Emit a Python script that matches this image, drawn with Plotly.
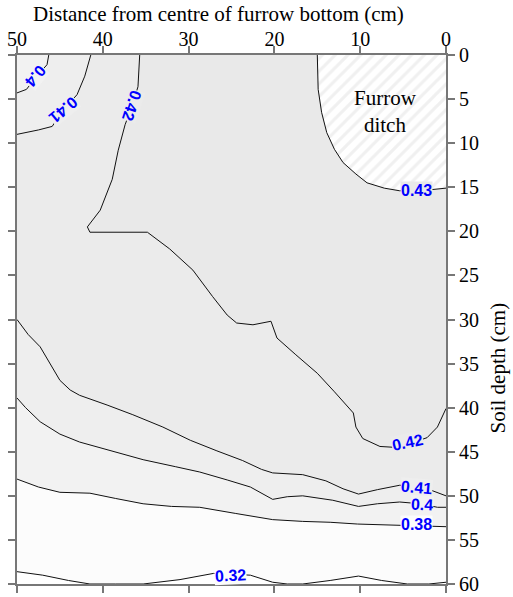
import plotly.graph_objects as go

# Plot extent (cm)
X_MAX = 50   # distance from centre of furrow bottom
Y_MAX = 60   # soil depth

# Soil-moisture isolines: distance (cm) and depth (cm) along each level
iso_043_x = [15.0, 14.9, 14.5, 13.9, 13.0, 12.0, 10.5, 9.2, 7.2, 5.4, 3.0, 0.0]
iso_043_y = [0.0, 3.9, 6.5, 8.8, 10.7, 12.2, 13.5, 14.5, 15.1, 15.4, 15.4, 15.1]

iso_042_x = [35.7, 35.9, 36.6, 37.4, 38.2, 38.9, 40.3, 41.8, 41.5, 38.0, 34.8, 32.2,
             29.5, 27.2, 25.5, 24.4, 22.5, 20.4, 19.7, 17.5, 15.0, 13.0, 11.5, 10.8,
             10.5, 9.7, 7.7, 6.0, 4.5, 2.2, 1.0, 0.0]
iso_042_y = [0.0, 3.6, 5.8, 7.9, 10.8, 14.1, 17.6, 19.5, 20.1, 20.1, 20.1, 22.0,
             24.4, 27.4, 29.5, 30.4, 30.6, 30.2, 32.1, 34.0, 36.1, 38.2, 39.9, 40.6,
             42.2, 43.5, 44.4, 44.5, 44.2, 43.4, 42.2, 40.1]

iso_041_top_x = [41.4, 42.1, 43.0, 44.6, 45.9, 47.5, 50.0]
iso_041_top_y = [0.0, 2.4, 4.5, 6.2, 8.1, 8.5, 9.0]

iso_040_top_x = [46.3, 46.5, 47.7, 48.9, 50.0]
iso_040_top_y = [0.0, 1.1, 2.4, 3.9, 4.3]

iso_041_x = [50.0, 49.7, 48.7, 47.3, 45.0, 43.8, 42.7, 39.5, 36.5, 33.0, 29.8, 26.7,
             23.7, 21.5, 20.2, 16.7, 14.0, 12.0, 10.2, 8.0, 5.4, 3.0, 1.0, 0.0]
iso_041_y = [30.0, 30.4, 31.7, 33.1, 36.9, 38.0, 38.6, 39.7, 40.8, 42.2, 43.7, 44.9,
             46.0, 47.0, 47.4, 47.6, 48.3, 49.2, 49.8, 49.3, 48.8, 48.9, 49.6, 50.0]

iso_040_x = [50.0, 49.0, 47.3, 45.0, 42.7, 39.0, 35.3, 31.5, 28.7, 25.5, 22.8, 20.2,
             18.5, 16.7, 13.2, 10.2, 8.0, 5.4, 3.0, 1.0, 0.0]
iso_040_y = [38.9, 40.0, 41.6, 43.0, 43.9, 44.9, 45.9, 46.7, 47.3, 48.2, 49.0, 50.4,
             50.1, 50.0, 50.5, 51.2, 50.9, 50.7, 50.9, 51.3, 51.3]

iso_038_x = [50.0, 47.5, 45.0, 41.5, 38.5, 35.3, 32.0, 28.7, 24.5, 20.2, 16.7, 13.5,
             10.3, 6.0, 3.0, 0.0]
iso_038_y = [48.1, 49.0, 49.6, 49.7, 50.3, 50.9, 51.2, 51.3, 52.0, 52.7, 52.9, 53.0,
             53.2, 53.3, 53.4, 53.5]

iso_032_x = [50.0, 47.0, 44.0, 41.5, 38.5, 35.3, 31.0, 27.1, 22.8, 20.2, 18.5, 16.7,
             13.5, 10.2, 7.5, 4.5, 2.0, 0.0]
iso_032_y = [58.6, 59.0, 59.6, 60.0, 60.0, 60.0, 59.5, 58.8, 59.0, 59.8, 60.0, 60.0,
             59.6, 59.1, 59.6, 60.0, 60.0, 59.8]

# Contour labels: text, distance, depth, angle
label_text = ["0.4", "0.41", "0.42", "0.43", "0.42", "0.41", "0.4", "0.38", "0.32"]
label_x = [47.8, 44.6, 36.6, 3.4, 4.5, 3.4, 2.8, 3.4, 25.1]
label_y = [2.4, 6.2, 5.8, 15.4, 44.0, 49.1, 51.0, 53.3, 59.0]
label_angle = [130, 140, 108, 0, -12, 5, 3, 0, -3]

# Fill shades for each moisture band
C_GT043 = "#ffffff"
C_042_043 = "#e9e9e9"
C_041_042 = "#ebebeb"
C_040_041 = "#eeeeee"
C_038_040 = "#f2f2f2"
C_032_038 = "#fcfcfc"
C_LT032 = "#ffffff"
label_bg = [C_038_040, C_040_041, C_041_042, C_042_043, C_041_042,
            C_040_041, C_038_040, C_032_038, C_032_038]

fig = go.Figure()


def band(xs, ys, color, pattern=None):
    fig.add_trace(go.Scatter(
        x=xs, y=ys, mode="lines", fill="toself", fillcolor=color,
        fillpattern=pattern, line=dict(width=0), hoverinfo="skip",
        showlegend=False))


# > 0.38
band(iso_038_x + [0, X_MAX], iso_038_y + [0, 0], C_038_040)
# > 0.40
band(iso_040_top_x + iso_040_x + [0],
     iso_040_top_y + iso_040_y + [0], C_040_041)
# > 0.41
band(iso_041_top_x + iso_041_x + [0],
     iso_041_top_y + iso_041_y + [0], C_041_042)
# > 0.42
band(iso_042_x + [0], iso_042_y + [0], C_042_043)
# < 0.32
band(iso_032_x + [0, X_MAX], iso_032_y + [Y_MAX, Y_MAX], C_LT032)
# furrow ditch (> 0.43), hatched
band(iso_043_x + [0], iso_043_y + [0], C_GT043,
     pattern=dict(shape="/", fgcolor="#e2e2e2", bgcolor="#ffffff",
                  size=9, solidity=0.35))

# isolines
for xs, ys in [(iso_043_x, iso_043_y), (iso_042_x, iso_042_y),
               (iso_041_top_x, iso_041_top_y), (iso_040_top_x, iso_040_top_y),
               (iso_041_x, iso_041_y), (iso_040_x, iso_040_y),
               (iso_038_x, iso_038_y), (iso_032_x, iso_032_y)]:
    fig.add_trace(go.Scatter(x=xs, y=ys, mode="lines",
                             line=dict(color="#111111", width=1),
                             hoverinfo="skip", showlegend=False))

for t, x, y, a, bg in zip(label_text, label_x, label_y, label_angle, label_bg):
    fig.add_annotation(x=x, y=y, text=t, showarrow=False, textangle=a,
                       bgcolor=bg, borderpad=0,
                       font=dict(family="Liberation Sans", size=16,
                                 color="#0000ff", weight="bold"))

fig.add_annotation(x=7.0, y=6.4, text="Furrow<br>ditch", showarrow=False,
                   font=dict(family="Liberation Serif", size=21, color="#000000"))

serif = dict(family="Liberation Serif", size=20, color="#000000")
axis_style = dict(showline=True, linecolor="#777777", linewidth=2,
                  ticks="outside", ticklen=7, tickwidth=1.5, tickcolor="#777777",
                  mirror="ticks", showgrid=False, zeroline=False, tickfont=serif,
                  automargin=False)

fig.update_xaxes(range=[X_MAX, 0], side="top", tickvals=list(range(0, 51, 10)),
                 ticklabelstandoff=-8, **axis_style)
fig.update_yaxes(range=[Y_MAX, 0], side="right", tickvals=list(range(0, 61, 5)),
                 **axis_style)

fig.add_annotation(xref="paper", yref="paper", x=0.47, y=1.078,
                   xanchor="center", yanchor="middle",
                   text="Distance from centre of furrow bottom (cm)",
                   showarrow=False, font=dict(family="Liberation Serif", size=21,
                                              color="#000000"))
fig.add_annotation(xref="paper", yref="paper", x=1.122, y=0.408, textangle=-90,
                   xanchor="center", yanchor="middle",
                   text="Soil depth (cm)", showarrow=False,
                   font=dict(family="Liberation Serif", size=21, color="#000000"))

fig.update_layout(width=513, height=597, plot_bgcolor=C_032_038,
                  paper_bgcolor="#ffffff",
                  margin=dict(l=17, r=67, t=55, b=13))

fig.write_html("out.html")
